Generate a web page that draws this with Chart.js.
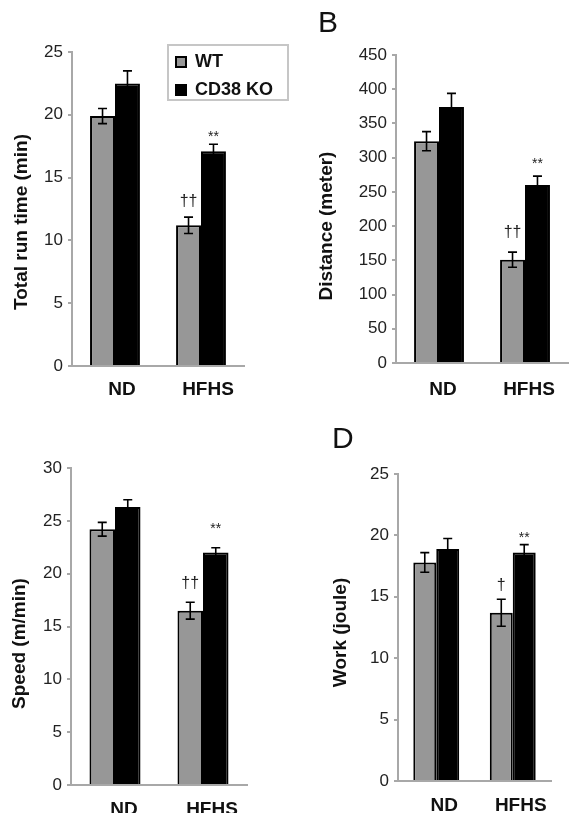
<!DOCTYPE html>
<html>
<head>
<meta charset="utf-8">
<script src="https://cdn.jsdelivr.net/npm/chart.js@4/dist/chart.umd.min.js"></script>
<style>
  html, body { margin: 0; padding: 0; background: #ffffff; }
  #wrap { position: relative; width: 582px; height: 813px; overflow: hidden; background: #fff; }
  canvas { position: absolute; }
</style>
</head>
<body>
<div id="wrap">
  <canvas id="cA" width="291" height="400" style="left:0;top:0"></canvas>
  <canvas id="cB" width="291" height="400" style="left:291px;top:0"></canvas>
  <canvas id="cC" width="291" height="413" style="left:0;top:400px"></canvas>
  <canvas id="cD" width="291" height="413" style="left:291px;top:400px"></canvas>
</div>
<script>
// ---------------- DATA ----------------
const categories = ['ND', 'HFHS'];
const seriesNames = ['WT', 'CD38 KO'];

// Panel A: Total run time (min)
const runTimeWT = [19.9, 11.2];
const runTimeWTErr = [0.6, 0.65];
const runTimeKO = [22.5, 17.1];
const runTimeKOErr = [1.0, 0.55];
const runTimeWTMarks = ['', '††'];
const runTimeKOMarks = ['', '**'];
const runTimeTicks = { max: 25, step: 5 };

// Panel B: Distance (meter)
const distanceWT = [324, 151];
const distanceWTErr = [14, 11];
const distanceKO = [374, 260];
const distanceKOErr = [20, 13];
const distanceWTMarks = ['', '††'];
const distanceKOMarks = ['', '**'];
const distanceTicks = { max: 450, step: 50 };

// Panel C: Speed (m/min)
const speedWT = [24.2, 16.5];
const speedWTErr = [0.65, 0.8];
const speedKO = [26.3, 22.0];
const speedKOErr = [0.7, 0.45];
const speedWTMarks = ['', '††'];
const speedKOMarks = ['', '**'];
const speedTicks = { max: 30, step: 5 };

// Panel D: Work (joule)
const workWT = [17.8, 13.7];
const workWTErr = [0.8, 1.1];
const workKO = [18.9, 18.6];
const workKOErr = [0.85, 0.65];
const workWTMarks = ['', '†'];
const workKOMarks = ['', '**'];
const workTicks = { max: 25, step: 5 };

// ---------------- STYLE ----------------
Chart.defaults.font.family = "'Liberation Sans', Arial, Helvetica, sans-serif";
const AXIS = '#a8a8a8';
const WT_FILL = '#979797';
const KO_FILL = '#000000';

// error bars + significance markers
const errorBarPlugin = {
  id: 'errorBars',
  afterDatasetsDraw(chart, args, opts) {
    const ctx = chart.ctx;
    const yScale = chart.scales.y;
    ctx.save();
    chart.data.datasets.forEach((ds, di) => {
      const meta = chart.getDatasetMeta(di);
      meta.data.forEach((bar, i) => {
        const v = ds.data[i], e = ds.errors[i];
        const top = yScale.getPixelForValue(v + e);
        const bot = yScale.getPixelForValue(v - e);
        ctx.strokeStyle = '#000';
        ctx.lineWidth = 1.6;
        ctx.beginPath();
        ctx.moveTo(bar.x, top); ctx.lineTo(bar.x, bot);
        ctx.moveTo(bar.x - 4.5, top); ctx.lineTo(bar.x + 4.5, top);
        ctx.moveTo(bar.x - 4.5, bot); ctx.lineTo(bar.x + 4.5, bot);
        ctx.stroke();
        const mark = ds.markers ? ds.markers[i] : '';
        if (mark) {
          const star = mark.indexOf('*') >= 0;
          ctx.fillStyle = '#222';
          ctx.font = (star ? '14px' : '16px') + " 'Liberation Sans', Arial, sans-serif";
          ctx.textAlign = 'center';
          ctx.textBaseline = 'alphabetic';
          ctx.fillText(mark, bar.x, top - (star ? opts.starGap : opts.daggerGap));
        }
      });
    });
    ctx.restore();
  }
};

// shift the y-axis title along the axis
const titleShiftPlugin = {
  id: 'titleShift',
  afterLayout(chart, args, opts) {
    const s = chart.scales.y;
    if (s && !s._shiftPatched) {
      const orig = s.drawTitle;
      s.drawTitle = function () {
        const c = this.ctx;
        c.save();
        c.translate(0, opts.dy || 0);
        orig.call(this);
        c.restore();
      };
      s._shiftPatched = true;
    }
  }
};

// panel letter (B, D)
const panelLetterPlugin = {
  id: 'panelLetter',
  afterDraw(chart, args, opts) {
    if (!opts.text) return;
    const ctx = chart.ctx;
    ctx.save();
    ctx.fillStyle = '#111';
    ctx.font = "30px 'Liberation Sans', Arial, sans-serif";
    ctx.textAlign = 'left';
    ctx.textBaseline = 'alphabetic';
    ctx.fillText(opts.text, opts.x, opts.y);
    ctx.restore();
  }
};

// legend placement + frame
const legendBoxPlugin = {
  id: 'legendBox',
  afterLayout(chart, args, opts) {
    const lg = chart.legend;
    if (!lg || !opts.enabled) return;
    const w = lg.width, h = lg.height;
    lg.left = opts.left; lg.top = opts.top;
    lg.right = opts.left + w; lg.bottom = opts.top + h;
  },
  beforeDraw(chart, args, opts) {
    if (!opts.enabled) return;
    const ctx = chart.ctx;
    const f = opts.frame;
    ctx.save();
    ctx.fillStyle = '#fff';
    ctx.fillRect(f[0], f[1], f[2], f[3]);
    ctx.strokeStyle = '#c6c6c6';
    ctx.lineWidth = 2;
    ctx.strokeRect(f[0], f[1], f[2], f[3]);
    ctx.restore();
  }
};

function makePanel(id, p) {
  const canvas = document.getElementById(id);
  return new Chart(canvas, {
    type: 'bar',
    data: {
      labels: categories,
      datasets: [
        {
          label: seriesNames[0], data: p.wt, errors: p.wtErr, markers: p.wtMarks,
          backgroundColor: WT_FILL, borderColor: '#000', borderWidth: 2,
          categoryPercentage: p.cat, barPercentage: 1.0
        },
        {
          label: seriesNames[1], data: p.ko, errors: p.koErr, markers: p.koMarks,
          backgroundColor: KO_FILL, borderColor: '#000', borderWidth: 2,
          categoryPercentage: p.cat, barPercentage: 1.0
        }
      ]
    },
    options: {
      responsive: false,
      animation: false,
      devicePixelRatio: 1,
      layout: { padding: { top: p.top, right: p.right, left: 0, bottom: 0 } },
      scales: {
        x: {
          grid: { display: false, drawTicks: false, tickLength: 0 },
          border: { display: true, color: AXIS, width: 2 },
          ticks: {
            color: '#111', font: { size: 19, weight: 'bold' },
            padding: p.xPad, labelOffset: p.xOff, maxRotation: 0, autoSkip: false
          },
          afterFit: (s) => { s.height = p.xH; }
        },
        y: {
          min: 0, max: p.ticks.max,
          ticks: { stepSize: p.ticks.step, color: '#222', font: { size: 17 }, padding: 5 },
          grid: { drawOnChartArea: false, drawTicks: true, tickLength: 4, color: AXIS, lineWidth: 2 },
          border: { display: true, color: AXIS, width: 2 },
          title: {
            display: true, text: p.title, color: '#111',
            font: { size: 19, weight: 'bold' },
            padding: { top: p.titlePad, bottom: 0 }
          },
          afterFit: (s) => { s.width = p.yW; }
        }
      },
      plugins: {
        legend: p.legend ? {
          display: true, position: 'chartArea', align: 'start',
          labels: {
            color: '#111', font: { size: 18, weight: 'bold' },
            boxWidth: 10, boxHeight: 10, padding: 10
          }
        } : { display: false },
        tooltip: { enabled: false },
        errorBars: { daggerGap: p.daggerGap, starGap: p.starGap },
        titleShift: { dy: p.titleDy },
        panelLetter: p.letter || {},
        legendBox: p.legend ? { enabled: true, left: 166, top: 43, frame: [168, 45, 120, 55] } : { enabled: false }
      }
    },
    plugins: [legendBoxPlugin, errorBarPlugin, titleShiftPlugin, panelLetterPlugin]
  });
}

makePanel('cA', {
  wt: runTimeWT, wtErr: runTimeWTErr, wtMarks: runTimeWTMarks,
  ko: runTimeKO, koErr: runTimeKOErr, koMarks: runTimeKOMarks,
  ticks: runTimeTicks, title: 'Total run time (min)',
  top: 52, right: 47, yW: 72, xH: 34, cat: 0.58,
  xPad: 12, xOff: 7, titlePad: 10.5, titleDy: 13,
  daggerGap: 11, starGap: 3, legend: true
});
makePanel('cB', {
  wt: distanceWT, wtErr: distanceWTErr, wtMarks: distanceWTMarks,
  ko: distanceKO, koErr: distanceKOErr, koMarks: distanceKOMarks,
  ticks: distanceTicks, title: 'Distance (meter)',
  top: 55, right: 14, yW: 105, xH: 37, cat: 0.58,
  xPad: 15, xOff: 4, titlePad: 24.5, titleDy: 17,
  daggerGap: 15, starGap: 8, legend: false,
  letter: { text: 'B', x: 27, y: 32 }
});
makePanel('cC', {
  wt: speedWT, wtErr: speedWTErr, wtMarks: speedWTMarks,
  ko: speedKO, koErr: speedKOErr, koMarks: speedKOMarks,
  ticks: speedTicks, title: 'Speed (m/min)',
  top: 68, right: 44, yW: 71, xH: 28, cat: 0.58,
  xPad: 13.5, xOff: 9, titlePad: 8, titleDy: 17,
  daggerGap: 14, starGap: 15, legend: false
});
makePanel('cD', {
  wt: workWT, wtErr: workWTErr, wtMarks: workWTMarks,
  ko: workKO, koErr: workKOErr, koMarks: workKOMarks,
  ticks: workTicks, title: 'Work (joule)',
  top: 74, right: 31, yW: 107, xH: 32, cat: 0.6,
  xPad: 13.5, xOff: 8, titlePad: 38, titleDy: 5,
  daggerGap: 9, starGap: 3, legend: false,
  letter: { text: 'D', x: 41, y: 48 }
});
</script>
</body>
</html>
